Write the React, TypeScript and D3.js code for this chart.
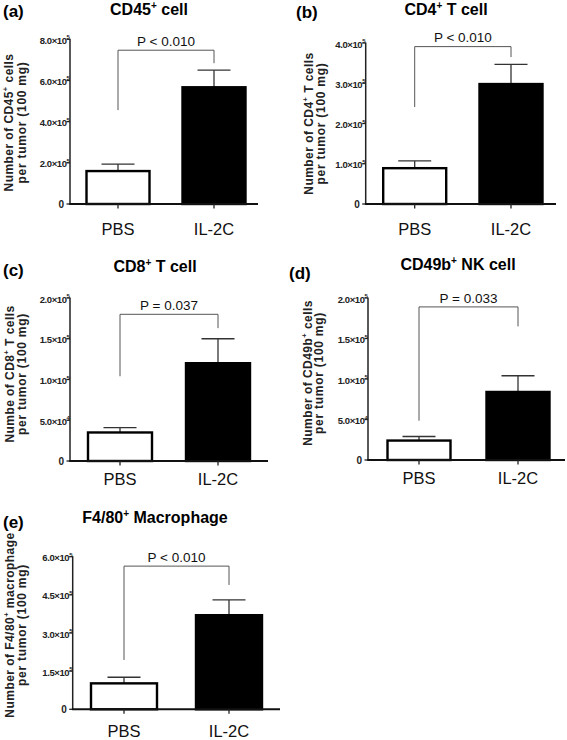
import React from "react";
import * as d3 from "d3";

// ---------- data ----------
const groups = ["PBS", "IL-2C"];
const panelTags = ["(a)", "(b)", "(c)", "(d)", "(e)"];
const titleMain = ["CD45", "CD4", "CD8", "CD49b", "F4/80"];
const titleRest = [" cell", " T cell", " T cell", " NK cell", " Macrophage"];
const pbsMeans = [1.6e5, 0.89e5, 0.35e5, 0.24e5, 1.02e5];
const pbsErr = [0.34e5, 0.18e5, 0.06e5, 0.05e5, 0.24e5];
const il2cMeans = [5.67e5, 2.98e5, 1.2e5, 0.84e5, 3.7e5];
const il2cErr = [0.83e5, 0.49e5, 0.3e5, 0.2e5, 0.6e5];
const yMax = [8e5, 4e5, 2e5, 2e5, 6e5];
const yTicks = [
  [0, 2e5, 4e5, 6e5, 8e5],
  [0, 1e5, 2e5, 3e5, 4e5],
  [0, 5e4, 1e5, 1.5e5, 2e5],
  [0, 5e4, 1e5, 1.5e5, 2e5],
  [0, 1.5e5, 3e5, 4.5e5, 6e5],
];
const pLabels = ["P < 0.010", "P < 0.010", "P = 0.037", "P = 0.033", "P < 0.010"];
const bracketTop = [7.47e5, 3.91e5, 1.8e5, 1.89e5, 5.63e5];
const bracketLeft = [4.56e5, 2.41e5, 1.04e5, 0.485e5, 1.94e5];
const bracketRight = [6.84e5, 3.65e5, 1.63e5, 1.65e5, 4.89e5];
const yLabelPre = ["Number of CD45", "Number of CD4", "Numbe of CD8", "Number of CD49b", "Number of F4/80"];
const yLabelPost = ["  cells", " T cells", " T cells", "  cells", "  macrophage"];
const yLabelLine2 = "per tumor (100 mg)";

// ---------- layout ----------
const layout = [
  { ax: 70, yTop: 39.3, y0: 204, xr: 258, c: [118, 214], bw: 65, lx: [12.7, 25.5], ly: 122.5, tag: [3, 17], title: [149, 15], cat: 235 },
  { ax: 365.7, yTop: 43, y0: 204, xr: 556, c: [414.7, 511], bw: 65, lx: [312.5, 324.5], ly: 123.5, tag: [296, 18], title: [446, 15], cat: 235 },
  { ax: 70, yTop: 298, y0: 461, xr: 268, c: [120, 218], bw: 66, lx: [14, 25.5], ly: 374, tag: [3, 276], title: [155, 272], cat: 485 },
  { ax: 368, yTop: 298, y0: 460, xr: 565, c: [419, 518], bw: 65, lx: [311.5, 323], ly: 373, tag: [289, 279], title: [458, 270], cat: 484 },
  { ax: 72.7, yTop: 556.7, y0: 709.3, xr: 280, c: [124, 229], bw: 68, lx: [14, 26], ly: 625, tag: [3, 528], title: [155, 523], cat: 737 },
];

const FONT = "'Liberation Sans', Arial, Helvetica, sans-serif";

function tickParts(v: number): [string, string] {
  if (v === 0) return ["0", ""];
  const e = Math.floor(Math.log10(v) + 1e-9);
  const m = v / Math.pow(10, e);
  return [m.toFixed(1) + "\u00d710", String(e)];
}

function Panel({ i }: { i: number }) {
  const L = layout[i];
  const y = d3.scaleLinear().domain([0, yMax[i]]).range([L.y0, L.yTop]);
  const x = d3.scalePoint<string>().domain(groups).range([L.c[0], L.c[1]]).padding(0);
  const means = [pbsMeans[i], il2cMeans[i]];
  const errs = [pbsErr[i], il2cErr[i]];
  const xL = x(groups[0])!;
  const xR = x(groups[1])!;
  const bt = y(bracketTop[i]);
  return (
    <g>
      {/* tag and title */}
      <text x={L.tag[0]} y={L.tag[1]} fontFamily={FONT} fontWeight="bold" fontSize={17}>
        {panelTags[i]}
      </text>
      <text x={L.title[0]} y={L.title[1]} fontFamily={FONT} fontWeight="bold" fontSize={16} textAnchor="middle">
        {titleMain[i]}
        <tspan fontSize={10} dy={-6}>+</tspan>
        <tspan dy={6}>{titleRest[i]}</tspan>
      </text>
      {/* y label */}
      <text
        transform={`translate(${L.lx[0]},${L.ly}) rotate(-90)`}
        fontFamily={FONT}
        fontWeight="bold"
        fontSize={12}
        letterSpacing={0.45}
        textAnchor="middle"
        fill="#222"
      >
        {yLabelPre[i]}
        <tspan fontSize={7.5} dy={-5}>+</tspan>
        <tspan dy={5}>{yLabelPost[i]}</tspan>
      </text>
      <text
        transform={`translate(${L.lx[1]},${L.ly}) rotate(-90)`}
        fontFamily={FONT}
        fontWeight="bold"
        fontSize={12}
        letterSpacing={0.75}
        textAnchor="middle"
        fill="#222"
      >
        {yLabelLine2}
      </text>
      {/* bars */}
      {groups.map((g, k) => {
        const cx = x(g)!;
        const top = y(means[k]);
        const et = y(means[k] + errs[k]);
        return (
          <g key={g}>
            <line x1={cx} x2={cx} y1={top} y2={et} stroke="#333" strokeWidth={1.3} />
            <line x1={cx - 16.5} x2={cx + 16.5} y1={et} y2={et} stroke="#333" strokeWidth={1.3} />
            <rect
              x={cx - L.bw / 2 + 1}
              y={top}
              width={L.bw - 2}
              height={L.y0 - top}
              fill={k === 0 ? "#fff" : "#000"}
              stroke="#000"
              strokeWidth={2.4}
            />
          </g>
        );
      })}
      {/* bracket */}
      <path
        d={`M${xL},${y(bracketLeft[i])}V${bt}H${xR}V${y(bracketRight[i])}`}
        fill="none"
        stroke="#555"
        strokeWidth={1}
      />
      <text x={(xL + xR) / 2} y={bt - 4.3} fontFamily={FONT} fontSize={13.5} textAnchor="middle" fill="#111">
        {pLabels[i]}
      </text>
      {/* y axis */}
      <line x1={L.ax} x2={L.ax} y1={L.yTop - 0.5} y2={L.y0} stroke="#222" strokeWidth={1.5} />
      {yTicks[i].map((t) => {
        const [main, sup] = tickParts(t);
        const ty = y(t);
        return (
          <g key={t}>
            <line x1={L.ax - 3.5} x2={L.ax} y1={ty} y2={ty} stroke="#222" strokeWidth={1.3} />
            {sup ? (
              <text x={L.ax - 0.5} y={ty + 4.5} fontFamily={FONT} fontWeight="bold" fontSize={9.5} textAnchor="end" fill="#222" letterSpacing={-0.4}>
                {main}
                <tspan fontSize={6} dy={-4.5}>{sup}</tspan>
              </text>
            ) : (
              <text x={L.ax - 6} y={ty + 3.5} fontFamily={FONT} fontWeight="bold" fontSize={10} textAnchor="end" fill="#222">
                {main}
              </text>
            )}
          </g>
        );
      })}
      {/* x axis */}
      <line x1={L.ax - 0.75} x2={L.xr} y1={L.y0} y2={L.y0} stroke="#111" strokeWidth={2} />
      {groups.map((g) => (
        <g key={g}>
          <line x1={x(g)!} x2={x(g)!} y1={L.y0} y2={L.y0 + 4.5} stroke="#222" strokeWidth={1.3} />
          <text x={x(g)!} y={L.cat} fontFamily={FONT} fontSize={16.5} textAnchor="middle" fill="#111">
            {g}
          </text>
        </g>
      ))}
    </g>
  );
}

export default function App() {
  return (
    <svg width={567} height={740} style={{ position: "absolute", left: 0, top: 0, background: "#fff" }}>
      <rect width={567} height={740} fill="#fff" />
      {layout.map((_, i) => (
        <Panel key={i} i={i} />
      ))}
    </svg>
  );
}
